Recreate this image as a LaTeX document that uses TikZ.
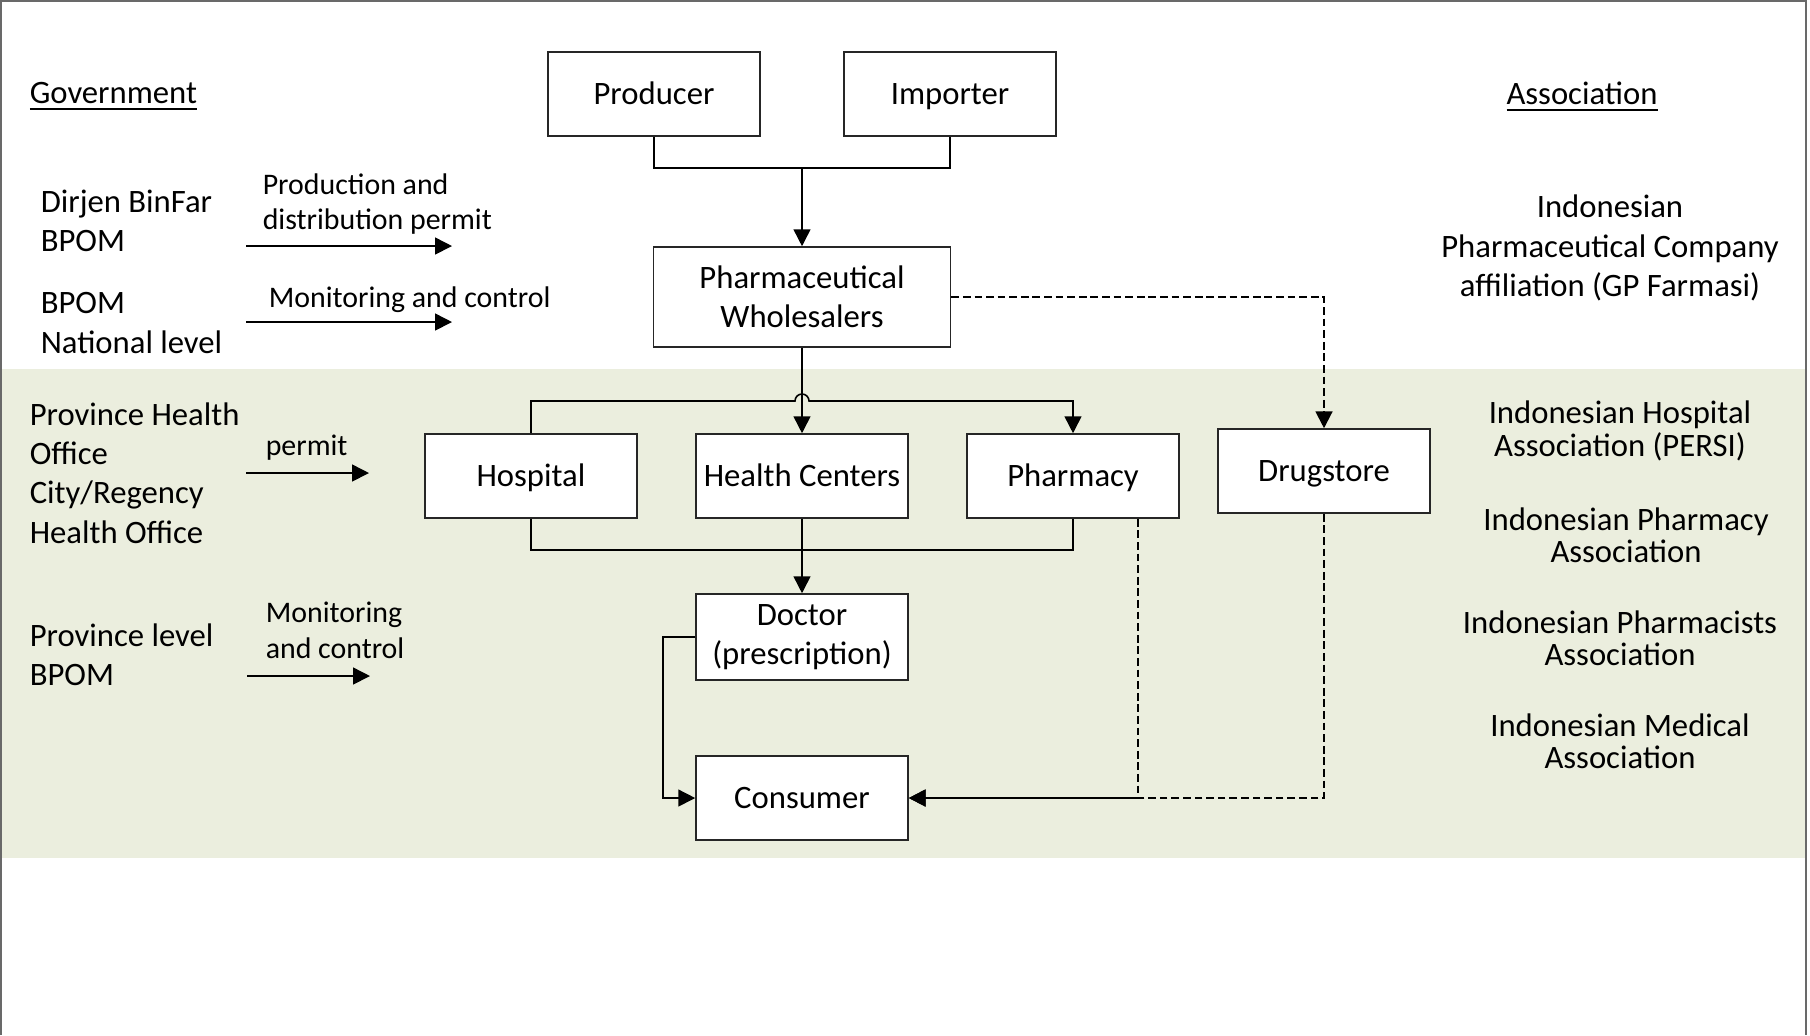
\documentclass[tikz,border=0pt]{standalone}
\usepackage{fontspec}
\setmainfont{Carlito}
\usetikzlibrary{arrows.meta}
\definecolor{bandgreen}{RGB}{235,238,222}
\definecolor{framegray}{RGB}{105,105,105}
\newcommand{\txtfont}{\fontsize{9.3}{11.2}\selectfont}
\newcommand{\assocfont}{\fontsize{9.3}{9.2}\selectfont}
\newcommand{\lblfont}{\fontsize{8.5}{10.2}\selectfont}

\begin{document}
\begin{tikzpicture}[>={Triangle[length=4.8pt,width=4.8pt]}, line width=0.45pt,
	box/.style={draw=black!85, fill=white, minimum width=2.12cm, minimum height=0.84cm, inner sep=0pt, align=center, font=\txtfont},
	onebox/.style={box, text height=7.4pt, text depth=1.3pt},
	side/.style={anchor=west, align=left, inner sep=0pt, font=\txtfont},
	assoc/.style={align=center, inner sep=0pt, font=\assocfont},
	lbl/.style={anchor=west, align=left, inner sep=0pt, font=\lblfont},
	dashline/.style={line width=0.6pt, dash pattern=on 2.2pt off 1.1pt}]
			\useasboundingbox (0,0) rectangle (18.10,-10.35);
			% Background band and frame
			\fill[bandgreen] (0.02,-3.69) rectangle (18.05,-8.58);
			\draw[framegray, line width=0.6pt] (0.01,-10.35) -- (0.01,-0.01) -- (18.06,-0.01) -- (18.06,-10.35);
			
			% Supply chain boxes
			\node[onebox] (prod) at (6.54,-0.94) {Producer};
			\node[onebox] (imp) at (9.50,-0.94) {Importer};
			\node[box, minimum width=2.97cm, minimum height=1.00cm] (whole) at (8.02,-2.97) {Pharmaceutical\\Wholesalers};
			\node[onebox] (hosp) at (5.31,-4.76) {Hospital};
			\node[onebox] (hc) at (8.02,-4.76) {Health Centers};
			\node[onebox] (pharm) at (10.73,-4.76) {Pharmacy};
			\node[onebox] (drug) at (13.24,-4.71) {Drugstore};
			\node[box, minimum height=0.86cm] (doc) at (8.02,-6.37) {Doctor\\(prescription)};
			\node[onebox] (cons) at (8.02,-7.98) {Consumer};
			
			% Government side
			\node[side] (gov) at (0.29,-0.97) {\underline{Government}};
			\node[side] (dirjen) at (0.40,-2.21) {Dirjen BinFar\\BPOM};
			\node[side] (bpomnat) at (0.40,-3.23) {BPOM\\National level};
			\node[side] (provho) at (0.29,-4.73) {Province Health\\Office\\City/Regency\\Health Office};
			\node[side] (provbpom) at (0.29,-6.55) {Province level\\BPOM};
			\node[lbl] (lprod) at (2.62,-2.04) {Production and\\distribution permit};
			\node[lbl] (lmon) at (2.68,-3.00) {Monitoring and control};
			\node[lbl] (lperm) at (2.65,-4.48) {permit};
			\node[lbl] (lmonprov) at (2.65,-6.30) {Monitoring\\and control};
			\coordinate (s1) at (2.46,-2.46); \coordinate (e1) at (4.52,-2.46);
			\coordinate (s2) at (2.46,-3.22); \coordinate (e2) at (4.52,-3.22);
			\coordinate (s3) at (2.46,-4.73); \coordinate (e3) at (3.69,-4.73);
			\coordinate (s4) at (2.47,-6.76); \coordinate (e4) at (3.70,-6.76);
			\foreach \i in {1,...,4}
				\draw[->] (s\i) -- (e\i);
			
			% Association side
			\node[assoc, font=\txtfont] (assoc) at (15.82,-0.97) {\underline{Association}};
			\node[assoc, font=\txtfont] (gpf) at (16.10,-2.48) {Indonesian\\Pharmaceutical Company\\affiliation (GP Farmasi)};
			\node[assoc] (persi) at (16.20,-4.31) {Indonesian Hospital\\Association (PERSI)};
			\node[assoc] (iphar) at (16.26,-5.35) {Indonesian Pharmacy\\Association};
			\node[assoc] (ipharm) at (16.20,-6.38) {Indonesian Pharmacists\\Association};
			\node[assoc] (imed) at (16.20,-7.41) {Indonesian Medical\\Association};
			
			% Connectors
			\coordinate (join) at (8.02,-1.68);
			\draw (prod.south) |- (join) -| (imp.south);
			\draw[->] (join) -- (whole.north);
			\draw[->] (whole.south) -- (hc.north);
			\coordinate (hopl) at (7.95,-4.01);
			\draw[->] (hosp.north) |- (hopl) arc[start angle=180, end angle=0, radius=0.07] -| (pharm.north);
			\coordinate (djoin) at (8.02,-5.50);
			\draw (hosp.south) |- (djoin) -| (pharm.south);
			\draw[->] (hc.south) -- (doc.north);
			\draw[->] (doc.west) -- ++(-0.32,0) |- (cons.west);
			
			% Dashed channels
			\draw[->, dashline] (whole.east) -| (drug.north);
			\draw[->, dashline] (drug.south) |- (cons.east);
			\draw[->, dashline] ([xshift=-0.42cm]pharm.south east) |- (cons.east);
\end{tikzpicture}
\end{document}
